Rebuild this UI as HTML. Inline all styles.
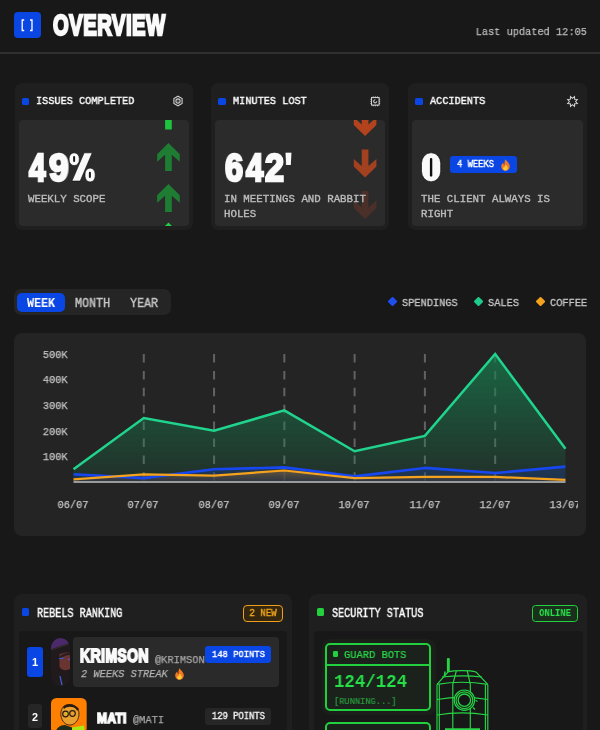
<!DOCTYPE html>
<html><head><meta charset="utf-8"><style>
html,body{margin:0;padding:0;}
body{width:600px;height:730px;overflow:hidden;background:#181818;position:relative;}
.t{position:absolute;white-space:nowrap;-webkit-font-smoothing:antialiased;will-change:transform;}
.r{position:absolute;}
svg{position:absolute;}
</style></head><body>
<div class="r" style="left:14px;top:11.5px;width:26.5px;height:26.5px;background:#0a46e4;border-radius:4px;"></div>
<svg style="left:14px;top:11.5px" width="26" height="26" viewBox="0 0 26 26"><path d="M10.2 8 H8.2 V18.5 H10.2 M16 8 H18 V18.5 H16" fill="none" stroke="#fff" stroke-width="1.3"/></svg>
<div class="t" style="left:53.2px;top:10.75px;font:700 29px/29px 'Liberation Sans', sans-serif;color:#fafafa;letter-spacing:0.8px;transform:scaleX(0.695);transform-origin:left top;-webkit-text-stroke:2.4px #fafafa;">OVERVIEW</div>
<div class="t" style="right:13px;top:27.38px;font:400 11.38px/11.38px 'Liberation Mono', monospace;color:#bdbdbd;letter-spacing:0px;transform:scaleX(0.905);transform-origin:right top;-webkit-text-stroke:0.25px #bdbdbd;">Last updated 12:05</div>
<div class="r" style="left:0px;top:52px;width:600px;height:2px;background:#2f2f2f;border-radius:0px;"></div>
<div class="r" style="left:14.5px;top:83px;width:178.5px;height:147px;background:#1f1f1f;border-radius:7px;"></div>
<div class="r" style="left:18.5px;top:120px;width:170.5px;height:106px;background:#2b2b2b;border-radius:4px;"></div>
<div class="r" style="left:21.5px;top:97.5px;width:7.5px;height:7.5px;background:#0a46e4;border-radius:1.5px;"></div>
<div class="t" style="left:36.1px;top:95.83px;font:400 11.84px/11.84px 'Liberation Mono', monospace;color:#fafafa;letter-spacing:0px;transform:scaleX(0.866);transform-origin:left top;-webkit-text-stroke:0.45px #fafafa;">ISSUES COMPLETED</div>
<div class="r" style="left:211px;top:83px;width:178px;height:147px;background:#1f1f1f;border-radius:7px;"></div>
<div class="r" style="left:215px;top:120px;width:170px;height:106px;background:#2b2b2b;border-radius:4px;"></div>
<div class="r" style="left:218px;top:97.5px;width:7.5px;height:7.5px;background:#0a46e4;border-radius:1.5px;"></div>
<div class="t" style="left:232.6px;top:95.83px;font:400 11.84px/11.84px 'Liberation Mono', monospace;color:#fafafa;letter-spacing:0px;transform:scaleX(0.866);transform-origin:left top;-webkit-text-stroke:0.45px #fafafa;">MINUTES LOST</div>
<div class="r" style="left:408px;top:83px;width:179px;height:147px;background:#1f1f1f;border-radius:7px;"></div>
<div class="r" style="left:412px;top:120px;width:171px;height:106px;background:#2b2b2b;border-radius:4px;"></div>
<div class="r" style="left:415px;top:97.5px;width:7.5px;height:7.5px;background:#0a46e4;border-radius:1.5px;"></div>
<div class="t" style="left:429.6px;top:95.83px;font:400 11.84px/11.84px 'Liberation Mono', monospace;color:#fafafa;letter-spacing:0px;transform:scaleX(0.866);transform-origin:left top;-webkit-text-stroke:0.45px #fafafa;">ACCIDENTS</div>
<svg style="left:0;top:0" width="600" height="260" viewBox="0 0 600 260"><defs><clipPath id="c1"><rect x="18.5" y="120" width="170.5" height="106" rx="4"/></clipPath><clipPath id="c2"><rect x="215" y="120" width="170" height="106" rx="4"/></clipPath></defs><g clip-path="url(#c1)"><path transform="translate(168.45,101.6)" d="M0,0 L11.3,11.1 L11.3,18.6 L3.35,11.6 L3.35,27.9 L-3.35,27.9 L-3.35,11.6 L-11.3,18.6 L-11.3,11.1 Z" fill="#1ec23f"/><path transform="translate(168.45,143.1)" d="M0,0 L11.3,11.1 L11.3,18.6 L3.35,11.6 L3.35,27.9 L-3.35,27.9 L-3.35,11.6 L-11.3,18.6 L-11.3,11.1 Z" fill="#1f7d33"/><path transform="translate(168.45,184.1)" d="M0,0 L11.3,11.1 L11.3,18.6 L3.35,11.6 L3.35,27.9 L-3.35,27.9 L-3.35,11.6 L-11.3,18.6 L-11.3,11.1 Z" fill="#1f7d33"/><path transform="translate(168.45,222.6)" d="M0,0 L11.3,11.1 L11.3,18.6 L3.35,11.6 L3.35,27.9 L-3.35,27.9 L-3.35,11.6 L-11.3,18.6 L-11.3,11.1 Z" fill="#22cc44"/></g><g clip-path="url(#c2)"><path transform="translate(365.1,136) scale(1,-1)" d="M0,0 L11.3,11.1 L11.3,18.6 L3.35,11.6 L3.35,27.9 L-3.35,27.9 L-3.35,11.6 L-11.3,18.6 L-11.3,11.1 Z" fill="#b2431d"/><path transform="translate(365.1,177.5) scale(1,-1)" d="M0,0 L11.3,11.1 L11.3,18.6 L3.35,11.6 L3.35,27.9 L-3.35,27.9 L-3.35,11.6 L-11.3,18.6 L-11.3,11.1 Z" fill="#a1411f"/><path transform="translate(365.1,219) scale(1,-1)" d="M0,0 L11.3,11.1 L11.3,18.6 L3.35,11.6 L3.35,27.9 L-3.35,27.9 L-3.35,11.6 L-11.3,18.6 L-11.3,11.1 Z" fill="#4a3028"/></g></svg>
<div class="t" style="left:29.03px;top:148.5px;font:700 38px/38px 'Liberation Sans', sans-serif;color:#fafafa;-webkit-text-stroke:2.6px #fafafa;transform:scaleX(0.7826);transform-origin:left top">4</div>
<div class="t" style="left:48.50px;top:148.5px;font:700 38px/38px 'Liberation Sans', sans-serif;color:#fafafa;-webkit-text-stroke:2.6px #fafafa;transform:scaleX(0.9286);transform-origin:left top">9</div>
<svg style="left:66px;top:148px" width="34" height="38" viewBox="66 148 34 38"><g fill="#fafafa" stroke="#151515" stroke-width="0.7"><rect x="69.1" y="152.8" width="10.2" height="12.8" rx="5" ry="5.5"/><path d="M84.1 152.8 L92.3 152.8 L80.2 181.1 L71.9 181.1 Z"/><rect x="85" y="168.1" width="10.2" height="13.9" rx="5" ry="5.8"/></g><g fill="#1a1a1a"><rect x="73.1" y="155.9" width="2" height="6" rx="1"/><rect x="88.9" y="171.8" width="2" height="6.2" rx="1"/></g></svg>
<div class="t" style="left:27.8px;top:194.08px;font:400 10.47px/10.47px 'Liberation Mono', monospace;color:#bdbdbd;letter-spacing:0px;transform:scaleX(1.0267);transform-origin:left top;-webkit-text-stroke:0.35px #bdbdbd;">WEEKLY SCOPE</div>
<div class="t" style="left:224.75px;top:148.5px;font:700 38px/38px 'Liberation Sans', sans-serif;color:#fafafa;-webkit-text-stroke:2.6px #fafafa;transform:scaleX(0.8571);transform-origin:left top">6</div>
<div class="t" style="left:245.82px;top:148.5px;font:700 38px/38px 'Liberation Sans', sans-serif;color:#fafafa;-webkit-text-stroke:2.6px #fafafa;transform:scaleX(0.8152);transform-origin:left top">4</div>
<div class="t" style="left:265.20px;top:148.5px;font:700 38px/38px 'Liberation Sans', sans-serif;color:#fafafa;-webkit-text-stroke:2.6px #fafafa;transform:scaleX(0.8952);transform-origin:left top">2</div>
<div class="t" style="left:285.45px;top:148.5px;font:700 38px/38px 'Liberation Sans', sans-serif;color:#fafafa;-webkit-text-stroke:2.6px #fafafa;transform:scaleX(0.7500);transform-origin:left top">'</div>
<div class="t" style="left:223.5px;top:194.08px;font:400 10.47px/10.47px 'Liberation Mono', monospace;color:#bdbdbd;letter-spacing:0px;transform:scaleX(1.0267);transform-origin:left top;-webkit-text-stroke:0.35px #bdbdbd;">IN MEETINGS AND RABBIT</div>
<div class="t" style="left:223.5px;top:209.08px;font:400 10.47px/10.47px 'Liberation Mono', monospace;color:#bdbdbd;letter-spacing:0px;transform:scaleX(1.0267);transform-origin:left top;-webkit-text-stroke:0.35px #bdbdbd;">HOLES</div>
<svg style="left:415px;top:148px" width="32" height="40" viewBox="415 148 32 40"><rect x="421.5" y="152.8" width="19.2" height="28.9" rx="9.2" ry="10.5" fill="#fafafa" stroke="#141414" stroke-width="0.7"/><rect x="429.9" y="157.9" width="2.4" height="18.7" rx="1.2" fill="#111"/></svg>
<div class="t" style="left:421.4px;top:194.08px;font:400 10.47px/10.47px 'Liberation Mono', monospace;color:#bdbdbd;letter-spacing:0px;transform:scaleX(1.0267);transform-origin:left top;-webkit-text-stroke:0.35px #bdbdbd;">THE CLIENT ALWAYS IS</div>
<div class="t" style="left:420.6px;top:209.08px;font:400 10.47px/10.47px 'Liberation Mono', monospace;color:#bdbdbd;letter-spacing:0px;transform:scaleX(1.0267);transform-origin:left top;-webkit-text-stroke:0.35px #bdbdbd;">RIGHT</div>
<div class="r" style="left:450px;top:156px;width:67px;height:16.5px;background:#0a46e4;border-radius:3px;"></div>
<div class="t" style="left:457px;top:159.92px;font:400 10.02px/10.02px 'Liberation Mono', monospace;color:#fff;letter-spacing:0px;transform:scaleX(0.882);transform-origin:left top;-webkit-text-stroke:0.4px #fff;">4 WEEKS</div>
<svg style="left:171.1px;top:93.9px" width="14" height="14" viewBox="-7 -7 14 14"><g fill="none" stroke="#cfcfcf" stroke-width="1.1"><path d="M0 -4.75 L4.1 -2.37 L4.1 2.37 L0 4.75 L-4.1 2.37 L-4.1 -2.37 Z"/><circle cx="0" cy="0" r="2.1"/></g><circle cx="0" cy="0" r="0.6" fill="#cfcfcf"/></svg>
<svg style="left:369.2px;top:94.7px" width="12.6" height="12.6" viewBox="0 0 13 13"><g fill="none" stroke="#cfcfcf" stroke-width="1.1"><rect x="2.6" y="2.6" width="7.8" height="7.8"/><path d="M8 6.5 A1.6 1.6 0 1 1 6.5 4.9"/></g><g fill="#cfcfcf"><path d="M3.5 2.6 L4.3 1 L5.1 2.6Z M5.7 2.6 L6.5 1 L7.3 2.6Z M7.9 2.6 L8.7 1 L9.5 2.6Z M3.5 10.4 L4.3 12 L5.1 10.4Z M5.7 10.4 L6.5 12 L7.3 10.4Z M7.9 10.4 L8.7 12 L9.5 10.4Z M2.6 3.5 L1 4.3 L2.6 5.1Z M2.6 5.7 L1 6.5 L2.6 7.3Z M2.6 7.9 L1 8.7 L2.6 9.5Z M10.4 3.5 L12 4.3 L10.4 5.1Z M10.4 5.7 L12 6.5 L10.4 7.3Z M10.4 7.9 L12 8.7 L10.4 9.5Z"/></g></svg>
<svg style="left:565.7px;top:94.6px" width="13" height="13" viewBox="0 0 13 13"><polygon points="8.49,1.70 8.69,4.31 11.30,4.51 9.60,6.50 11.30,8.49 8.69,8.69 8.49,11.30 6.50,9.60 4.51,11.30 4.31,8.69 1.70,8.49 3.40,6.50 1.70,4.51 4.31,4.31 4.51,1.70 6.50,3.40" fill="none" stroke="#cfcfcf" stroke-width="1.1" stroke-linejoin="miter"/></svg>
<svg style="left:500px;top:158.5px" width="11.0" height="12.0" viewBox="0 0 11 12"><path d="M5.5 0.3 C6.5 2.2 9.8 4.2 9.8 7.6 C9.8 10.2 7.9 11.8 5.5 11.8 C3.1 11.8 1.2 10.2 1.2 7.6 C1.2 5.6 2.4 4.4 3.2 3.6 C3.3 5 3.9 5.8 4.6 6 C4.2 4 4.6 2 5.5 0.3Z" fill="#f3781f"/><path d="M5.6 5.6 C6.4 6.8 7.8 7.6 7.8 9.3 C7.8 10.7 6.8 11.5 5.5 11.5 C4.2 11.5 3.2 10.7 3.2 9.4 C3.2 8.4 3.9 7.8 4.3 7.4 C4.5 8.2 4.8 8.5 5.2 8.6 C5 7.6 5.1 6.5 5.6 5.6Z" fill="#ffc93a"/></svg>
<div class="r" style="left:14px;top:289px;width:157px;height:26px;background:#252525;border-radius:7px;"></div>
<div class="r" style="left:17px;top:293px;width:48px;height:18.5px;background:#0a46e4;border-radius:5px;"></div>
<div class="t" style="left:27px;top:297.70px;font:700 12.14px/12.14px 'Liberation Mono', monospace;color:#fff;letter-spacing:0px;transform:scaleX(0.9679);transform-origin:left top;">WEEK</div>
<div class="t" style="left:75.2px;top:297.70px;font:400 12.14px/12.14px 'Liberation Mono', monospace;color:#c8c8c8;letter-spacing:0px;transform:scaleX(0.9679);transform-origin:left top;-webkit-text-stroke:0.35px #c8c8c8;">MONTH</div>
<div class="t" style="left:130px;top:297.70px;font:400 12.14px/12.14px 'Liberation Mono', monospace;color:#c8c8c8;letter-spacing:0px;transform:scaleX(0.9679);transform-origin:left top;-webkit-text-stroke:0.35px #c8c8c8;">YEAR</div>
<div class="r" style="left:388.96px;top:298.46px;width:7.07px;height:7.07px;background:#1f4ff0;transform:rotate(45deg);border-radius:1px"></div>
<div class="t" style="left:401.9px;top:296.97px;font:400 11.53px/11.53px 'Liberation Mono', monospace;color:#c8c8c8;letter-spacing:0px;transform:scaleX(0.896);transform-origin:left top;-webkit-text-stroke:0.3px #c8c8c8;">SPENDINGS</div>
<div class="r" style="left:475.46px;top:298.46px;width:7.07px;height:7.07px;background:#1ecb8a;transform:rotate(45deg);border-radius:1px"></div>
<div class="t" style="left:488px;top:296.97px;font:400 11.53px/11.53px 'Liberation Mono', monospace;color:#c8c8c8;letter-spacing:0px;transform:scaleX(0.896);transform-origin:left top;-webkit-text-stroke:0.3px #c8c8c8;">SALES</div>
<div class="r" style="left:536.96px;top:298.46px;width:7.07px;height:7.07px;background:#f5a21d;transform:rotate(45deg);border-radius:1px"></div>
<div class="t" style="left:549.5px;top:296.97px;font:400 11.53px/11.53px 'Liberation Mono', monospace;color:#c8c8c8;letter-spacing:0px;transform:scaleX(0.896);transform-origin:left top;-webkit-text-stroke:0.3px #c8c8c8;">COFFEE</div>
<div class="r" style="left:14.4px;top:333px;width:572.1px;height:202.79999999999995px;background:#242424;border-radius:8px;"></div>
<svg width="600" height="730" style="left:0;top:0" viewBox="0 0 600 730">
<defs><linearGradient id="gg" x1="0" y1="354" x2="0" y2="482" gradientUnits="userSpaceOnUse"><stop offset="0" stop-color="#168050" stop-opacity="0.72"/><stop offset="1" stop-color="#168050" stop-opacity="0.13"/></linearGradient><linearGradient id="og" x1="0" y1="468" x2="0" y2="482" gradientUnits="userSpaceOnUse"><stop offset="0" stop-color="#8a6838" stop-opacity="0.75"/><stop offset="1" stop-color="#383838" stop-opacity="0.6"/></linearGradient><clipPath id="cp"><rect x="14" y="333" width="564" height="203"/></clipPath></defs>
<g clip-path="url(#cp)">
<line x1="143.78" y1="354" x2="143.78" y2="481" stroke="#626262" stroke-width="2" stroke-dasharray="8.5 8.4"/>
<line x1="214.06" y1="354" x2="214.06" y2="481" stroke="#626262" stroke-width="2" stroke-dasharray="8.5 8.4"/>
<line x1="284.34" y1="354" x2="284.34" y2="481" stroke="#626262" stroke-width="2" stroke-dasharray="8.5 8.4"/>
<line x1="354.62" y1="354" x2="354.62" y2="481" stroke="#626262" stroke-width="2" stroke-dasharray="8.5 8.4"/>
<line x1="424.90" y1="354" x2="424.90" y2="481" stroke="#626262" stroke-width="2" stroke-dasharray="8.5 8.4"/>
<line x1="495.18" y1="354" x2="495.18" y2="481" stroke="#626262" stroke-width="2" stroke-dasharray="8.5 8.4"/>
<path d="M73.50,482 L73.50,469.20 143.78,418.00 214.06,430.80 284.34,410.32 354.62,451.28 424.90,435.92 495.18,354.00 565.46,448.72 L565.46,482 Z" fill="url(#gg)"/>
<path d="M73.50,482 L73.50,474.32 143.78,478.16 214.06,469.20 284.34,467.41 354.62,476.37 424.90,467.92 495.18,473.04 565.46,466.64 L565.46,482 Z" fill="#1a3a9a" fill-opacity="0.35"/>
<path d="M73.50,482 L73.50,479.44 143.78,474.32 214.06,475.60 284.34,470.48 354.62,478.16 424.90,476.88 495.18,476.88 565.46,479.95 L565.46,482 Z" fill="url(#og)"/>
<line x1="73.5" y1="482" x2="565.46" y2="482" stroke="#9a9a9a" stroke-width="2"/>
<polyline points="73.50,469.20 143.78,418.00 214.06,430.80 284.34,410.32 354.62,451.28 424.90,435.92 495.18,354.00 565.46,448.72" fill="none" stroke="#20d48e" stroke-width="2.5" stroke-linejoin="miter"/>
<polyline points="73.50,474.32 143.78,478.16 214.06,469.20 284.34,467.41 354.62,476.37 424.90,467.92 495.18,473.04 565.46,466.64" fill="none" stroke="#1747f0" stroke-width="2.6" stroke-linejoin="round"/>
<polyline points="73.50,479.44 143.78,474.32 214.06,475.60 284.34,470.48 354.62,478.16 424.90,476.88 495.18,476.88 565.46,479.95" fill="none" stroke="#f5a21d" stroke-width="2.2" stroke-linejoin="round"/>
</g></svg>
<div class="t" style="right:532.8px;top:349.81px;font:400 11.08px/11.08px 'Liberation Mono', monospace;color:#c4c4c4;letter-spacing:0px;transform:scaleX(0.9328);transform-origin:right top;-webkit-text-stroke:0.25px #c4c4c4;">500K</div>
<div class="t" style="right:532.8px;top:375.41px;font:400 11.08px/11.08px 'Liberation Mono', monospace;color:#c4c4c4;letter-spacing:0px;transform:scaleX(0.9328);transform-origin:right top;-webkit-text-stroke:0.25px #c4c4c4;">400K</div>
<div class="t" style="right:532.8px;top:401.01px;font:400 11.08px/11.08px 'Liberation Mono', monospace;color:#c4c4c4;letter-spacing:0px;transform:scaleX(0.9328);transform-origin:right top;-webkit-text-stroke:0.25px #c4c4c4;">300K</div>
<div class="t" style="right:532.8px;top:426.61px;font:400 11.08px/11.08px 'Liberation Mono', monospace;color:#c4c4c4;letter-spacing:0px;transform:scaleX(0.9328);transform-origin:right top;-webkit-text-stroke:0.25px #c4c4c4;">200K</div>
<div class="t" style="right:532.8px;top:452.21px;font:400 11.08px/11.08px 'Liberation Mono', monospace;color:#c4c4c4;letter-spacing:0px;transform:scaleX(0.9328);transform-origin:right top;-webkit-text-stroke:0.25px #c4c4c4;">100K</div>
<div style="position:absolute;left:14px;top:490px;width:564px;height:30px;overflow:hidden">
<div class="t" style="left:59.10px;top:10.15px;font:400 11.68px/11.68px 'Liberation Mono', monospace;color:#c4c4c4;-webkit-text-stroke:0.25px #c4c4c4;transform:translateX(-50%) scaleX(0.8844)">06/07</div>
<div class="t" style="left:129.38px;top:10.15px;font:400 11.68px/11.68px 'Liberation Mono', monospace;color:#c4c4c4;-webkit-text-stroke:0.25px #c4c4c4;transform:translateX(-50%) scaleX(0.8844)">07/07</div>
<div class="t" style="left:199.66px;top:10.15px;font:400 11.68px/11.68px 'Liberation Mono', monospace;color:#c4c4c4;-webkit-text-stroke:0.25px #c4c4c4;transform:translateX(-50%) scaleX(0.8844)">08/07</div>
<div class="t" style="left:269.94px;top:10.15px;font:400 11.68px/11.68px 'Liberation Mono', monospace;color:#c4c4c4;-webkit-text-stroke:0.25px #c4c4c4;transform:translateX(-50%) scaleX(0.8844)">09/07</div>
<div class="t" style="left:340.22px;top:10.15px;font:400 11.68px/11.68px 'Liberation Mono', monospace;color:#c4c4c4;-webkit-text-stroke:0.25px #c4c4c4;transform:translateX(-50%) scaleX(0.8844)">10/07</div>
<div class="t" style="left:410.50px;top:10.15px;font:400 11.68px/11.68px 'Liberation Mono', monospace;color:#c4c4c4;-webkit-text-stroke:0.25px #c4c4c4;transform:translateX(-50%) scaleX(0.8844)">11/07</div>
<div class="t" style="left:480.78px;top:10.15px;font:400 11.68px/11.68px 'Liberation Mono', monospace;color:#c4c4c4;-webkit-text-stroke:0.25px #c4c4c4;transform:translateX(-50%) scaleX(0.8844)">12/07</div>
<div class="t" style="left:551.06px;top:10.15px;font:400 11.68px/11.68px 'Liberation Mono', monospace;color:#c4c4c4;-webkit-text-stroke:0.25px #c4c4c4;transform:translateX(-50%) scaleX(0.8844)">13/07</div>
</div>
<div class="r" style="left:14.1px;top:594.3px;width:277.9px;height:165.70000000000005px;background:#1f1f1f;border-radius:8px;"></div>
<div class="r" style="left:18.75px;top:631.25px;width:267.75px;height:128.75px;background:#181818;border-radius:4px;"></div>
<div class="r" style="left:21.75px;top:608.25px;width:7.5px;height:7.5px;background:#0a46e4;border-radius:1.5px;"></div>
<div class="t" style="left:37.1px;top:607.78px;font:400 12.29px/12.29px 'Liberation Mono', monospace;color:#fafafa;letter-spacing:0px;transform:scaleX(0.8271);transform-origin:left top;-webkit-text-stroke:0.45px #fafafa;">REBELS RANKING</div>
<div class="r" style="left:243px;top:605px;width:40.19999999999999px;height:16.799999999999955px;background:#35270f;border-radius:4px;box-sizing:border-box;border:1.9px solid #eea01a;"></div>
<div class="t" style="left:263.1px;top:608.40px;font:400 10.24px/10.24px 'Liberation Mono', monospace;color:#f0a61e;letter-spacing:0px;transform:translateX(-50%) scaleX(0.8884);-webkit-text-stroke:0.4px #f0a61e;">2 NEW</div>
<div class="r" style="left:27px;top:647px;width:16px;height:30px;background:#0a46e4;border-radius:3px;"></div>
<div class="t" style="left:34.6px;top:656.79px;font:700 11px/11px 'Liberation Sans', sans-serif;color:#fff;letter-spacing:0px;transform:translateX(-50%) scaleX(1.0);">1</div>
<svg style="left:51.2px;top:638px" width="19" height="48.2" viewBox="0 0 19 48"><defs><clipPath id="av1"><rect x="0" y="0" width="19" height="48" rx="9.5"/></clipPath></defs><g clip-path="url(#av1)"><rect width="19" height="48" fill="#201a1d"/><path d="M0 0 H19 V5 L0 11.5Z" fill="#4b2a6b"/><path d="M0 12 L19 5.5" stroke="#2e2829" stroke-width="1.5"/><path d="M8.5 16 C12 14.5 16 14 19 14.5 V31 C15 33 11 32.5 8.5 29Z" fill="#6a3430"/><path d="M8 19 C12 15 16 15 19 14 L19 17 C15 17 11 19 9 21Z" fill="#2a1e1e"/><path d="M8 20.5 L12.5 20" stroke="#3a5ad0" stroke-width="1.4"/><path d="M17 21.5 L19 21" stroke="#6a4ad0" stroke-width="1.4"/><path d="M9 38 L11 47" stroke="#3b5fd0" stroke-width="1.3"/></g></svg>
<div class="r" style="left:73px;top:637px;width:205.5px;height:49.5px;background:#2a2a2a;border-radius:4px;"></div>
<div class="t" style="left:80.3px;top:648.08px;font:700 17.5px/17.5px 'Liberation Sans', sans-serif;color:#fafafa;letter-spacing:0.5px;transform:scaleX(0.8);transform-origin:left top;-webkit-text-stroke:1.8px #fafafa;">KRIMSON</div>
<div class="t" style="left:155.2px;top:654.80px;font:400 11.23px/11.23px 'Liberation Mono', monospace;color:#a8a8a8;letter-spacing:0px;transform:scaleX(0.9202);transform-origin:left top;-webkit-text-stroke:0.25px #a8a8a8;">@KRIMSON</div>
<div class="t" style="left:80.5px;top:669.13px;font:400 11.84px/11.84px 'Liberation Mono', monospace;color:#b4b4b4;letter-spacing:0px;font-style:italic;transform:scaleX(0.873);transform-origin:left top;-webkit-text-stroke:0.25px #b4b4b4;">2 WEEKS STREAK</div>
<svg style="left:173.5px;top:667.5px" width="11.0" height="12.0" viewBox="0 0 11 12"><path d="M5.5 0.3 C6.5 2.2 9.8 4.2 9.8 7.6 C9.8 10.2 7.9 11.8 5.5 11.8 C3.1 11.8 1.2 10.2 1.2 7.6 C1.2 5.6 2.4 4.4 3.2 3.6 C3.3 5 3.9 5.8 4.6 6 C4.2 4 4.6 2 5.5 0.3Z" fill="#f3781f"/><path d="M5.6 5.6 C6.4 6.8 7.8 7.6 7.8 9.3 C7.8 10.7 6.8 11.5 5.5 11.5 C4.2 11.5 3.2 10.7 3.2 9.4 C3.2 8.4 3.9 7.8 4.3 7.4 C4.5 8.2 4.8 8.5 5.2 8.6 C5 7.6 5.1 6.5 5.6 5.6Z" fill="#ffc93a"/></svg>
<div class="r" style="left:205px;top:646px;width:66px;height:16.799999999999955px;background:#0a46e4;border-radius:3px;"></div>
<div class="t" style="left:212px;top:650.15px;font:400 9.86px/9.86px 'Liberation Mono', monospace;color:#fff;letter-spacing:0px;transform:scaleX(0.8956);transform-origin:left top;-webkit-text-stroke:0.4px #fff;">148 POINTS</div>
<div class="r" style="left:27.5px;top:704.4px;width:14.5px;height:23.600000000000023px;background:#262626;border-radius:3px;"></div>
<div class="t" style="left:34.8px;top:711.76px;font:700 10.8px/10.8px 'Liberation Sans', sans-serif;color:#fff;letter-spacing:0px;transform:translateX(-50%) scaleX(1.0);">2</div>
<svg style="left:51.1px;top:697.8px" width="35.7" height="36" viewBox="0 0 35.7 36"><defs><clipPath id="av2"><rect x="0" y="0" width="35.7" height="36" rx="5.5"/></clipPath></defs><g clip-path="url(#av2)"><rect width="36" height="36" fill="#ff7f00"/><path d="M10 18 C9 11 13 6 19 6.5 C25 7 28 11 28 16 C28 21 25 26 20 27 C14 27.5 11 23 10 18Z" fill="#e8a030" stroke="#3a2410" stroke-width="0.9"/><path d="M12 9 C15 5 24 5 28 11 C27 13 26 13 25 11 C22 8 16 8 13 11Z" fill="#2a1a10"/><circle cx="14.5" cy="16" r="2.8" fill="none" stroke="#2a1a10" stroke-width="1.2"/><circle cx="21.5" cy="15.5" r="2.8" fill="none" stroke="#2a1a10" stroke-width="1.2"/><circle cx="15.5" cy="15.5" r="0.9" fill="#a8e818"/><path d="M4 36 C5 30 9 27 14 27 L21 29.5 L21 36Z" fill="#1e2a1c"/><path d="M21 29.5 L33 27.5 L34 36 L21 36Z" fill="#a8e818"/></g></svg>
<div class="t" style="left:96.8px;top:709.50px;font:700 15px/15px 'Liberation Sans', sans-serif;color:#fafafa;letter-spacing:0.4px;transform:scaleX(0.8);transform-origin:left top;-webkit-text-stroke:1.7px #fafafa;">MATI</div>
<div class="t" style="left:132.5px;top:715.20px;font:400 11.23px/11.23px 'Liberation Mono', monospace;color:#a8a8a8;letter-spacing:0px;transform:scaleX(0.9202);transform-origin:left top;-webkit-text-stroke:0.25px #a8a8a8;">@MATI</div>
<div class="r" style="left:205px;top:708px;width:66px;height:16.75px;background:#262626;border-radius:3px;"></div>
<div class="t" style="left:212px;top:712.12px;font:400 10.02px/10.02px 'Liberation Mono', monospace;color:#f0f0f0;letter-spacing:0px;transform:scaleX(0.882);transform-origin:left top;-webkit-text-stroke:0.4px #f0f0f0;">129 POINTS</div>
<div class="r" style="left:309.3px;top:594px;width:277.40000000000003px;height:166px;background:#1f1f1f;border-radius:8px;"></div>
<div class="r" style="left:314.3px;top:631.25px;width:268.7px;height:128.75px;background:#181818;border-radius:4px;"></div>
<div class="r" style="left:316.8px;top:608.25px;width:7.199999999999989px;height:7.5px;background:#22d13d;border-radius:1.5px;"></div>
<div class="t" style="left:332.1px;top:607.78px;font:400 12.29px/12.29px 'Liberation Mono', monospace;color:#fafafa;letter-spacing:0px;transform:scaleX(0.8271);transform-origin:left top;-webkit-text-stroke:0.45px #fafafa;">SECURITY STATUS</div>
<div class="r" style="left:532px;top:604.7px;width:46px;height:16.899999999999977px;background:#1a301c;border-radius:3.5px;box-sizing:border-box;border:1.9px solid #22d13d;"></div>
<div class="t" style="left:555.2px;top:608.09px;font:700 10.32px/10.32px 'Liberation Mono', monospace;color:#2be04a;letter-spacing:0px;transform:translateX(-50%) scaleX(0.8561);">ONLINE</div>
<div class="r" style="left:321.5px;top:639px;width:114.0px;height:75.5px;background:#1a1f1a;border-radius:8px;"></div>
<div class="r" style="left:325.4px;top:643px;width:106.0px;height:67.79999999999995px;background:#1b221b;border-radius:5px;box-sizing:border-box;border:2px solid #22cf3e;"></div>
<div class="r" style="left:327px;top:664.3px;width:103px;height:1.7000000000000455px;background:#22cf3e;border-radius:0px;"></div>
<div class="r" style="left:332.8px;top:651.3px;width:5.399999999999977px;height:5.800000000000068px;background:#22cf3e;border-radius:1.2px;"></div>
<div class="t" style="left:344.3px;top:649.70px;font:400 11.23px/11.23px 'Liberation Mono', monospace;color:#2bdc4a;letter-spacing:0px;transform:scaleX(0.9276);transform-origin:left top;-webkit-text-stroke:0.2px #2bdc4a;">GUARD BOTS</div>
<div class="t" style="left:334.2px;top:672.77px;font:700 18.97px/18.97px 'Liberation Mono', monospace;color:#26de48;letter-spacing:0px;transform:scaleX(0.9182);transform-origin:left top;">124/124</div>
<div class="t" style="left:333.9px;top:697.01px;font:400 9.26px/9.26px 'Liberation Mono', monospace;color:#2a9e3e;letter-spacing:0px;transform:scaleX(0.9399);transform-origin:left top;-webkit-text-stroke:0.2px #2a9e3e;">[RUNNING...]</div>
<div class="r" style="left:325.4px;top:721.7px;width:106.0px;height:58.299999999999955px;background:#1b221b;border-radius:5px;box-sizing:border-box;border:2px solid #22cf3e;"></div>
<svg style="left:430px;top:650px" width="70" height="80" viewBox="0 0 70 80"><g fill="none" stroke="#27d445" stroke-width="1.15"><rect x="16.9" y="7.9" width="2.9" height="14" fill="#27d445" stroke="none" rx="1"/><path d="M15 21.5 L14.5 26" stroke-width="1.6"/><path d="M7 34.4 L18 22 C24 20.2 40 20.2 46 22 L57.8 34.4"/><path d="M7 34.4 L7 80 M9.3 34.4 L9.3 80 M57.8 34.4 L57.8 80 M55.4 34.4 L55.4 80"/><path d="M26.3 21 L22.8 34.4 L22.8 80 M37.3 21 L40.3 34.4 L40.3 80"/><path d="M12 27 C25 25.5 40 25.5 52 27"/><path d="M7 34.4 C22 31.8 42 31.8 57.8 34.4"/><path d="M7 49.5 C22 47 42 47 57.8 49.5"/><path d="M7 65 C22 62.5 42 62.5 57.8 65"/><path d="M15 79.5 L50 79.5" stroke-width="2.4"/><circle cx="34.4" cy="50.2" r="10.2" fill="#161616"/><circle cx="34.4" cy="50.2" r="8.4"/><circle cx="34.4" cy="50.2" r="6.2" stroke-width="1.3"/><path d="M45.5 50.3 L47.5 51.5 M43 57.5 L45 59.5"/></g></svg>
</body></html>
